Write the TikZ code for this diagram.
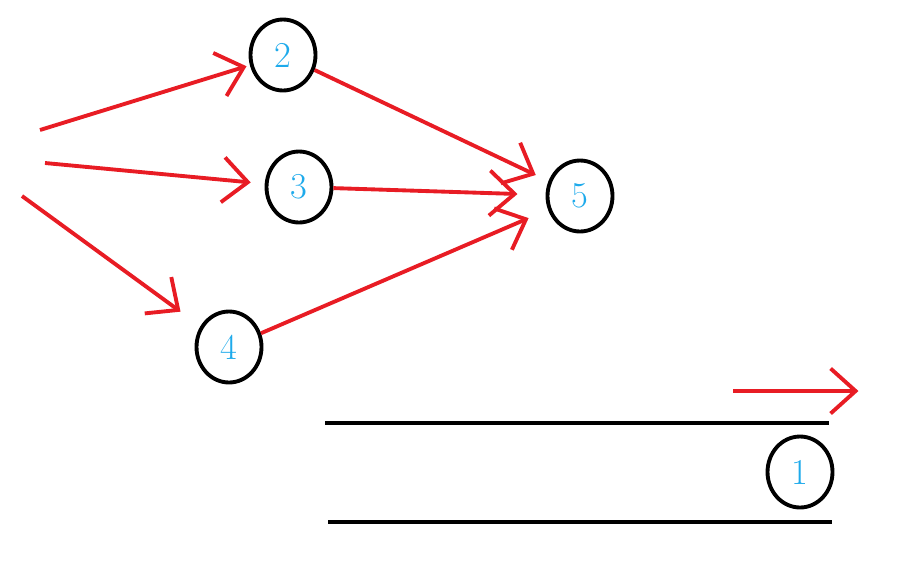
\documentclass[tikz,border=0pt]{standalone}
\usepackage{tikz}
\usetikzlibrary{shapes.geometric, arrows.meta, positioning, calc}
\definecolor{penred}{RGB}{232,28,36}
\definecolor{numblue}{RGB}{30,170,235}
\tikzset{
  vert/.style={draw, ellipse, line width=2.2pt, minimum width=1.3cm, minimum height=1.42cm, inner sep=0pt, text=numblue, font=\huge},
  edge/.style={draw=penred, line width=2.2pt, -{Straight Barb[length=0.5cm, width=0.9cm, line width=2.2pt]}, shorten >=2pt},
  rail/.style={line width=2pt}
}
\begin{document}
\begin{tikzpicture}[x=0.02cm, y=-0.02cm]
\useasboundingbox (0,0) rectangle (918,572);
% Vertices
\node[vert] (n2) at (283,55) {2};
\node[vert] (n3) at (299,187) {3};
\node[vert] (n4) at (229,347) {4};
\node[vert] (n5) at (580,196) {5};
\node[vert] (n1) at (800,472) {1};

% Free ends
\coordinate (s2) at (40,130);
\coordinate (s3) at (45,163);
\coordinate (s4) at (22,196);
\coordinate (m0) at (733,391);
\coordinate (m1) at (862,391);

% Arrows
\draw[edge] (s2) -- (n2);
\draw[edge, shorten >=8pt] (s3) -- (n3);
\draw[edge, shorten >=14pt] (s4) -- (n4);
\draw[edge, shorten >=8pt] (n2) -- (n5);
\draw[edge, shorten >=16pt] (n3) -- (n5);
\draw[edge, shorten >=12pt] (n4) -- (n5);
\draw[edge] (m0) -- (m1);

% Rails
\coordinate (r1) at (325,423);
\coordinate (r2) at (829,423);
\coordinate (r3) at (328,522);
\coordinate (r4) at (832,522);
\draw[rail] (r1) -- (r2);
\draw[rail] (r3) -- (r4);
\end{tikzpicture}
\end{document}
